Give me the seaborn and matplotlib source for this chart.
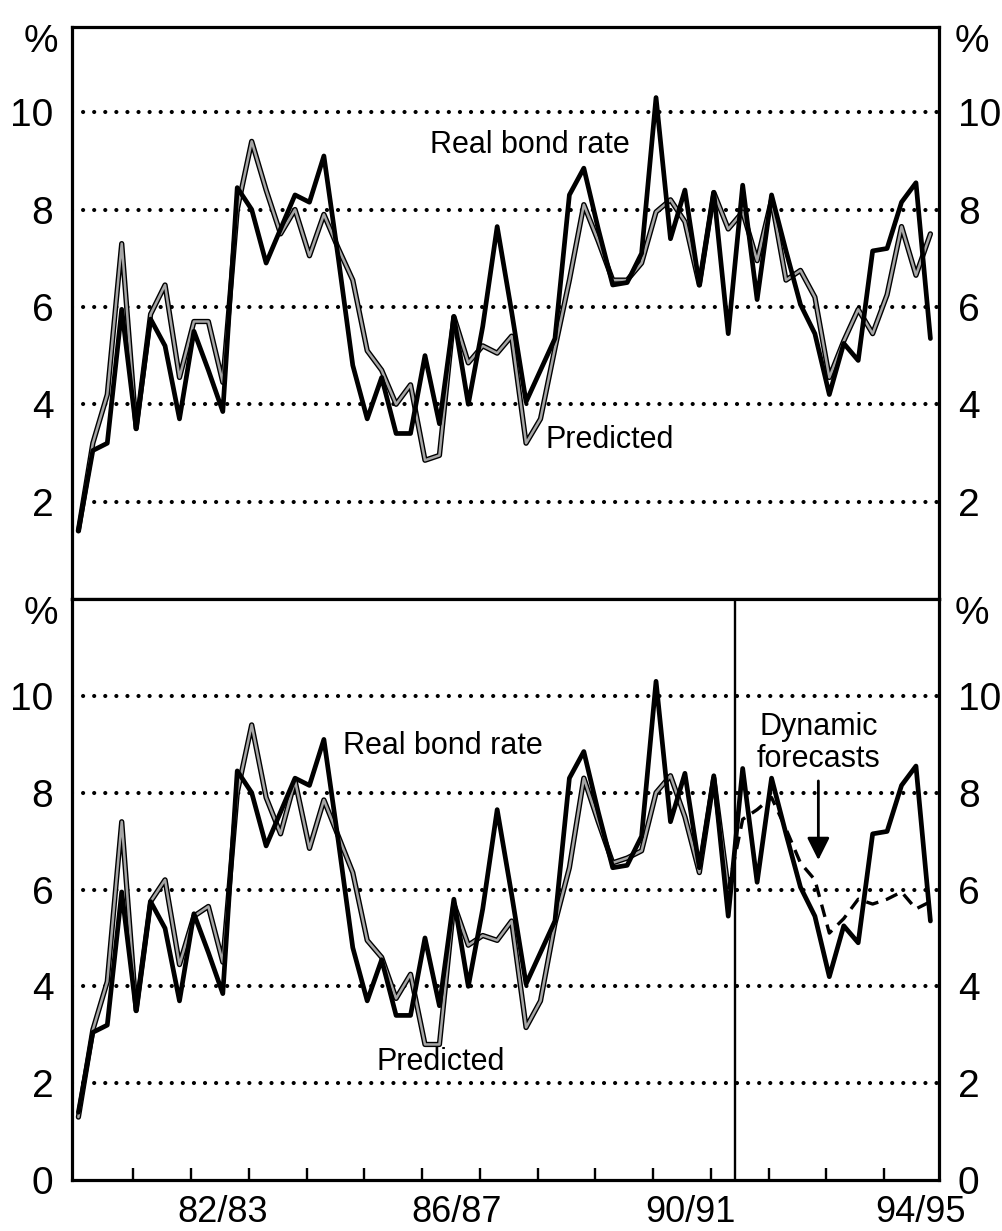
import numpy as np
import pandas as pd
import matplotlib
matplotlib.use('Agg')
import matplotlib.pyplot as plt
import matplotlib.patheffects as pe
import seaborn as sns

# quarterly observations, Sep quarter 1980 to Jun quarter 1995
quarters = pd.period_range('1980Q3', periods=60, freq='Q')
t = np.asarray(quarters.year + (quarters.quarter - 1) / 4 + 0.05, dtype=float)

real_rate = [1.4, 3.05, 3.2, 5.95, 3.5, 5.75, 5.2, 3.7, 5.5, 4.7,
             3.85, 8.45, 8.0, 6.9, 7.6, 8.3, 8.15, 9.1, 7.0, 4.8,
             3.7, 4.55, 3.4, 3.4, 5.0, 3.6, 5.8, 4.0, 5.6, 7.65,
             5.9, 4.05, 4.7, 5.35, 8.3, 8.85, 7.6, 6.45, 6.5, 7.1,
             10.3, 7.4, 8.4, 6.45, 8.35, 5.45, 8.5, 6.15, 8.3, 7.15,
             6.05, 5.45, 4.2, 5.25, 4.9, 7.15, 7.2, 8.15, 8.55, 5.35]

predicted_full = [1.4, 3.2, 4.2, 7.3, 3.5, 5.85, 6.45, 4.55, 5.7, 5.7,
                  4.45, 8.0, 9.4, 8.4, 7.5, 8.0, 7.05, 7.9, 7.2, 6.55,
                  5.1, 4.7, 4.0, 4.4, 2.85, 2.95, 5.8, 4.85, 5.2, 5.05,
                  5.4, 3.2, 3.7, 5.15, 6.55, 8.1, 7.35, 6.55, 6.55, 6.9,
                  7.95, 8.2, 7.75, 6.45, 8.35, 7.6, 7.95, 6.95, 8.2, 6.55,
                  6.75, 6.2, 4.55, 5.3, 5.95, 5.45, 6.25, 7.65, 6.65, 7.5]

# estimation sample ends Dec 1991, then dynamic forecasts
predicted_sample = [1.3, 3.1, 4.1, 7.4, 3.5, 5.75, 6.2, 4.45, 5.45, 5.65,
                    4.5, 8.0, 9.4, 7.9, 7.15, 8.25, 6.85, 7.85, 7.1, 6.35,
                    4.95, 4.6, 3.75, 4.25, 2.8, 2.8, 5.7, 4.85, 5.05, 4.95,
                    5.35, 3.15, 3.7, 5.3, 6.45, 8.3, 7.4, 6.55, 6.65, 6.8,
                    8.0, 8.35, 7.5, 6.35, 8.3, 6.0]
forecast = [6.0, 7.45, 7.65, 7.9, 7.25, 6.55, 6.2, 5.1, 5.4, 5.8,
            5.7, 5.8, 5.95, 5.6, 5.75]

year_ticks = np.arange(1981.5, 1995, 1.0)
fy_labels = ['82/83', '86/87', '90/91', '94/95']
fy_pos = [1983.05, 1987.1, 1991.15, 1995.12]
sample_end = 1991.91

sns.set_style('white')
plt.rcParams['font.family'] = ['Liberation Sans', 'DejaVu Sans']
plt.rcParams['text.color'] = 'black'
plt.rcParams['xtick.color'] = 'black'
plt.rcParams['ytick.color'] = 'black'

fig = plt.figure(figsize=(10.02, 12.31), dpi=100)
ax1 = fig.add_axes([0.0719, 0.5134, 0.8653, 0.4647])
ax2 = fig.add_axes([0.0719, 0.0414, 0.8653, 0.4720])

pred_style = dict(color='#a6a6a6', lw=1.8,
                  path_effects=[pe.Stroke(linewidth=3.8, foreground='black'), pe.Normal()])

for ax in (ax1, ax2):
    ax.set_xlim(1980.44, 1995.45)
    for s in ax.spines.values():
        s.set_linewidth(2.3)
        s.set_color('black')
    for g in [2, 4, 6, 8, 10]:
        ax.axhline(g, color='black', lw=3.0, ls=(0, (0.01, 2.65)),
                   dash_capstyle='round', zorder=1)
    ax.tick_params(axis='y', left=False, right=False, labelleft=True,
                   labelright=True, pad=10, labelsize=28)

# top panel
sns.lineplot(x=t, y=predicted_full, ax=ax1, zorder=2, **pred_style)
sns.lineplot(x=t, y=real_rate, ax=ax1, color='black', lw=3.4, zorder=3)
ax1.set_ylim(0, 11.75)
ax1.set_yticks([2, 4, 6, 8, 10])
ax1.set_xticks([])
ax1.text(1988.37, 9.33, 'Real bond rate', fontsize=22, ha='center', va='center')
ax1.text(1989.75, 3.26, 'Predicted', fontsize=22, ha='center', va='center')

# bottom panel
n = len(predicted_sample)
sns.lineplot(x=t[:n], y=predicted_sample, ax=ax2, zorder=2, **pred_style)
sns.lineplot(x=t, y=real_rate, ax=ax2, color='black', lw=3.4, zorder=3)
ax2.plot(t[n - 1:], forecast, color='black', lw=2.4, ls=(0, (3.8, 2.4)), zorder=4)
ax2.axvline(sample_end, color='black', lw=1.7, zorder=4)
ax2.set_ylim(0, 12)
ax2.set_yticks([0, 2, 4, 6, 8, 10])
ax2.set_xticks(year_ticks)
ax2.tick_params(axis='x', which='major', direction='in', length=9, width=1.7,
                labelbottom=False, bottom=True)
ax2.set_xticks(fy_pos, minor=True)
ax2.set_xticklabels(fy_labels, minor=True)
ax2.tick_params(axis='x', which='minor', length=0, pad=11, labelsize=26)
ax2.text(1986.86, 8.97, 'Real bond rate', fontsize=22, ha='center', va='center')
ax2.text(1986.83, 2.43, 'Predicted', fontsize=22, ha='center', va='center')
ax2.text(1993.36, 9.03, 'Dynamic\nforecasts', fontsize=22, ha='center', va='center',
         linespacing=1.1)
ax2.annotate('', xy=(1993.36, 6.55), xytext=(1993.36, 8.3),
             arrowprops=dict(arrowstyle='-|>', mutation_scale=34, lw=2.0, color='black'))

for ax, top in ((ax1, 11.75), (ax2, 12)):
    tr = ax.get_yaxis_transform()
    ax.text(-0.016, top - 0.3, '%', transform=tr, fontsize=28, ha='right', va='center')
    ax.text(1.018, top - 0.3, '%', transform=tr, fontsize=28, ha='left', va='center')

fig.savefig('out.png', dpi=100)
